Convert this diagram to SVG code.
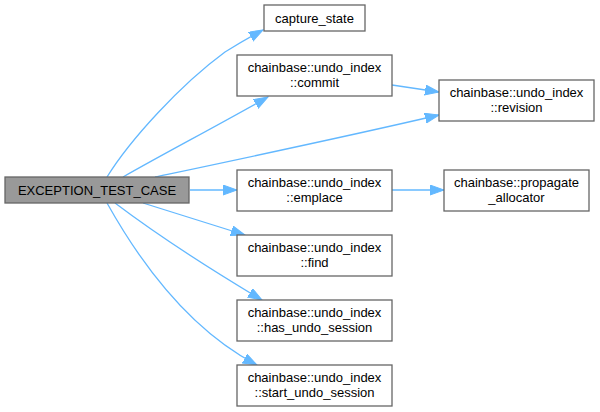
<svg xmlns="http://www.w3.org/2000/svg" width="600" height="412" viewBox="0 0 600 412">
<defs>
<marker id="ah" markerUnits="userSpaceOnUse" markerWidth="15" markerHeight="11" refX="14" refY="5" orient="auto">
<path d="M0,0 L14,5 L0,10 z" fill="#63b8ff" stroke="#63b8ff" stroke-width="1"/>
</marker>
<style>
.n rect{fill:#ffffff;stroke:#666666;stroke-width:1.3}
.n.main rect{fill:#999999}
text{font-family:"Liberation Sans",Arial,Helvetica,sans-serif;font-size:13px;fill:#000;text-anchor:middle}
.e path{fill:none;stroke:#63b8ff;stroke-width:1.3;marker-end:url(#ah)}
</style>
</defs>
<rect width="600" height="412" fill="#ffffff"/>
<g class="e" id="edges">
<path d="M107,177 C130,140 180,85 225,52 C238,44 250,37 263,30"/>
<path d="M123,177 C165,153 215,127 268,97"/>
<path d="M155,177 C245,158 345,137 439,115"/>
<path d="M392,85 L439,92"/>
<path d="M190,190 L237,190"/>
<path d="M392,190 L444,190"/>
<path d="M143,203 C175,213 210,224 245,235"/>
<path d="M115,203 C160,237 215,272 262,300"/>
<path d="M107,203 C140,262 190,330 257,365"/>
</g>
<g class="n main" id="node-main"><rect x="5" y="177" width="184" height="26"/><text x="97" y="194.5">EXCEPTION_TEST_CASE</text></g>
<g class="n" id="node-capture"><rect x="264" y="5" width="101" height="26"/><text x="314.5" y="22.5">capture_state</text></g>
<g class="n" id="node-commit"><rect x="237" y="55" width="155" height="41"/><text x="314.5" y="72">chainbase::undo_index</text><text x="314.5" y="87">::commit</text></g>
<g class="n" id="node-revision"><rect x="439" y="80" width="155" height="41"/><text x="516.5" y="97">chainbase::undo_index</text><text x="516.5" y="112">::revision</text></g>
<g class="n" id="node-emplace"><rect x="237" y="170" width="155" height="41"/><text x="314.5" y="187">chainbase::undo_index</text><text x="314.5" y="202">::emplace</text></g>
<g class="n" id="node-propagate"><rect x="444" y="170" width="145" height="41"/><text x="516.5" y="187">chainbase::propagate</text><text x="516.5" y="202">_allocator</text></g>
<g class="n" id="node-find"><rect x="237" y="235" width="155" height="41"/><text x="314.5" y="252">chainbase::undo_index</text><text x="314.5" y="267">::find</text></g>
<g class="n" id="node-has"><rect x="237" y="300" width="155" height="41"/><text x="314.5" y="317">chainbase::undo_index</text><text x="314.5" y="332">::has_undo_session</text></g>
<g class="n" id="node-start"><rect x="237" y="365" width="155" height="41"/><text x="314.5" y="382">chainbase::undo_index</text><text x="314.5" y="397">::start_undo_session</text></g>
</svg>
